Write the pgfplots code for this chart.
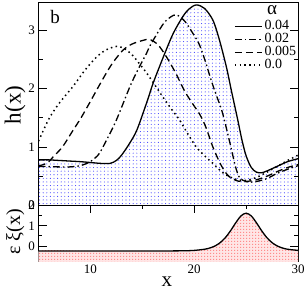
\documentclass[border=0pt]{standalone}
\usepackage{fontspec}
\setmainfont{Liberation Serif}
\usepackage{pgfplots}
\pgfplotsset{compat=1.18}
\usetikzlibrary{patterns}
\pgfdeclarepatternformonly{sparsedots}{\pgfpoint{-1pt}{-1pt}}{\pgfpoint{1pt}{1pt}}{\pgfpoint{3.6pt}{3.6pt}}{\pgfpathcircle{\pgfpointorigin}{0.55pt}\pgfusepath{fill}}
\pgfdeclarepatternformonly{pinkgrid}{\pgfpoint{0pt}{0pt}}{\pgfpoint{3pt}{3pt}}{\pgfpoint{3pt}{3pt}}{\pgfpathrectangle{\pgfpointorigin}{\pgfpoint{1.5pt}{1.5pt}}\pgfusepath{fill}}
\begin{document}
\begin{tikzpicture}
\pgfplotsset{
  every axis/.append style={
    scale only axis, width=259.5pt, xmin=5, xmax=30,
    /pgf/number format/assume math mode=true,
    tick label style={font=\fontsize{13}{13}\selectfont},
    axis line style={line width=0.7pt},
    major tick length=8pt, minor tick length=4pt,
    every tick/.style={line width=0.7pt, black},
    tick align=inside,
  }
}
\begin{axis}[name=top, height=203.5pt, ymin=0, ymax=3.48,
  ytick={0,1,2,3}, minor y tick num=1, xtick=\empty,
  ylabel={h(x)},
  ylabel style={at={(axis description cs:-0.09,0.494)}, anchor=center, font=\fontsize{23}{23}\selectfont},
  legend style={at={(axis description cs:0.7534,0.913)}, anchor=north west, draw=none, fill=none,
    inner sep=0pt, outer sep=0pt, row sep=0pt,
    nodes={inner xsep=2pt, inner ysep=0pt, text height=10pt, text depth=3pt, font=\fontsize{14}{14}\selectfont}},
  legend cell align=left,
  legend image code/.code={\draw[#1] (0pt,0pt) -- (27pt,0pt);},
]
% fill under solid curve
\addplot[draw=none, pattern=sparsedots, pattern color=blue!75, smooth, forget plot] coordinates {
(5,0) (5,0.78) (6,0.78) (7,0.77) (8,0.76) (9,0.75) (10,0.735) (11,0.72) (11.9,0.72) (12.5,0.77) (13,0.86) (13.8,1.07) (14.5,1.3) (15.5,1.8) (16.1,2.12) (17.3,2.66) (18,2.95) (18.9,3.23) (19.5,3.36) (20.2,3.43) (21,3.37) (21.8,3.17) (22.4,2.85) (23.1,2.37) (23.6,1.95) (24.2,1.46) (24.6,1.12) (25,0.85) (25.5,0.65) (26,0.57) (26.5,0.56) (27,0.59) (28,0.67) (29,0.75) (30,0.8) (30,0)};
\addplot[black, line width=1.3pt, smooth] coordinates {
(5,0.78) (6,0.78) (7,0.77) (8,0.76) (9,0.75) (10,0.735) (11,0.72) (11.9,0.72) (12.5,0.77) (13,0.86) (13.8,1.07) (14.5,1.3) (15.5,1.8) (16.1,2.12) (17.3,2.66) (18,2.95) (18.9,3.23) (19.5,3.36) (20.2,3.43) (21,3.37) (21.8,3.17) (22.4,2.85) (23.1,2.37) (23.6,1.95) (24.2,1.46) (24.6,1.12) (25,0.85) (25.5,0.65) (26,0.57) (26.5,0.56) (27,0.59) (28,0.67) (29,0.75) (30,0.8)};
\addlegendentry{0.04}
\addplot[black, line width=1.3pt, smooth, dash pattern=on 7pt off 3pt on 1.5pt off 3pt] coordinates {
(5,0.67) (6,0.665) (7,0.66) (8,0.66) (9,0.68) (9.9,0.74) (10.5,0.82) (10.9,0.9) (11.5,1.1) (12.5,1.46) (13.8,2.03) (14.6,2.33) (15.4,2.6) (15.8,2.75) (17,3.1) (17.7,3.22) (18.3,3.26) (19.1,3.15) (19.85,2.95) (20.5,2.75) (21.1,2.45) (21.5,2.22) (22,1.95) (22.7,1.6) (23.4,1.1) (24,0.65) (24.4,0.47) (25,0.41) (25.5,0.4) (26,0.41) (27,0.46) (28,0.55) (29,0.62) (30,0.68)};
\addlegendentry{0.02}
\addplot[black, line width=1.3pt, smooth, dash pattern=on 7pt off 4pt] coordinates {
(5,0.68) (5.5,0.7) (6,0.75) (6.4,0.83) (7.3,1.0) (8.2,1.25) (9.1,1.5) (10,1.78) (11,2.1) (12,2.4) (13.1,2.65) (14,2.76) (15,2.82) (15.7,2.84) (16.5,2.75) (17.3,2.55) (18.2,2.27) (19.1,1.95) (20,1.7) (20.5,1.57) (21.1,1.35) (21.8,1.0) (22.5,0.72) (23,0.57) (23.4,0.49) (24,0.43) (24.5,0.41) (25,0.41) (26,0.44) (27,0.5) (28,0.58) (29,0.65) (30,0.7)};
\addlegendentry{0.005}
\addplot[black, line width=1.5pt, smooth, dash pattern=on 1.5pt off 3.3pt] coordinates {
(5,1.1) (6,1.48) (7,1.75) (8.3,2.03) (9.5,2.32) (10.6,2.54) (11.5,2.66) (12.5,2.72) (13.2,2.69) (14,2.58) (14.7,2.43) (15.4,2.27) (16.1,2.09) (17,1.85) (17.8,1.65) (18.6,1.46) (19.4,1.22) (20.2,1.0) (21,0.85) (21.8,0.72) (22.5,0.6) (23.1,0.52) (24,0.45) (25,0.43) (26,0.48) (27,0.57) (28,0.67) (29,0.77) (30,0.86)};
\addlegendentry{0.0}
\node[font=\fontsize{19}{19}\selectfont, inner sep=0pt] at (axis description cs:0.900,0.958) {α};
\node[font=\fontsize{19}{19}\selectfont, inner sep=0pt] at (axis description cs:0.0636,0.928) {b};
\end{axis}
\begin{axis}[name=bot, at={(top.south west)}, anchor=north west, height=56pt,
  ymin=-0.77, ymax=2.0, ytick={0,1,2}, minor y tick num=1,
  xtick={10,20,30}, minor x tick num=1,
  xlabel={x}, ylabel={ε ξ(x)},
  xlabel style={at={(axis description cs:0.495,-0.36)}, anchor=center, font=\fontsize{21}{21}\selectfont},
  ylabel style={at={(axis description cs:-0.09,0.527)}, anchor=center, font=\fontsize{20}{20}\selectfont},
]
\addplot[draw=none, fill=red!10, smooth] coordinates {
(5,-1) (5,-0.25) (10,-0.25) (15,-0.25) (17,-0.249) (19,-0.24) (20,-0.221) (21,-0.164) (21.5,-0.102) (22,-0.002) (22.5,0.163) (23,0.41) (23.5,0.75) (24,1.143) (24.5,1.483) (25,1.62) (25.5,1.483) (26,1.143) (26.5,0.75) (27,0.41) (27.5,0.163) (28,-0.002) (28.5,-0.102) (29,-0.164) (30,-0.221) (30,-1)};
\addplot[draw=none, pattern=pinkgrid, pattern color=red!45, smooth] coordinates {
(5,-1) (5,-0.25) (10,-0.25) (15,-0.25) (17,-0.249) (19,-0.24) (20,-0.221) (21,-0.164) (21.5,-0.102) (22,-0.002) (22.5,0.163) (23,0.41) (23.5,0.75) (24,1.143) (24.5,1.483) (25,1.62) (25.5,1.483) (26,1.143) (26.5,0.75) (27,0.41) (27.5,0.163) (28,-0.002) (28.5,-0.102) (29,-0.164) (30,-0.221) (30,-1)};
\addplot[black, line width=1.3pt, smooth] coordinates {
(5,-0.25) (10,-0.25) (15,-0.25) (17,-0.249) (19,-0.24) (20,-0.221) (21,-0.164) (21.5,-0.102) (22,-0.002) (22.5,0.163) (23,0.41) (23.5,0.75) (24,1.143) (24.5,1.483) (25,1.62) (25.5,1.483) (26,1.143) (26.5,0.75) (27,0.41) (27.5,0.163) (28,-0.002) (28.5,-0.102) (29,-0.164) (30,-0.221)};
\end{axis}
\pgfresetboundingbox
\path[use as bounding box] ([xshift=-38.5pt,yshift=2pt]top.north west) rectangle ([xshift=9pt,yshift=-28.5pt]bot.south east);
\end{tikzpicture}
\end{document}
